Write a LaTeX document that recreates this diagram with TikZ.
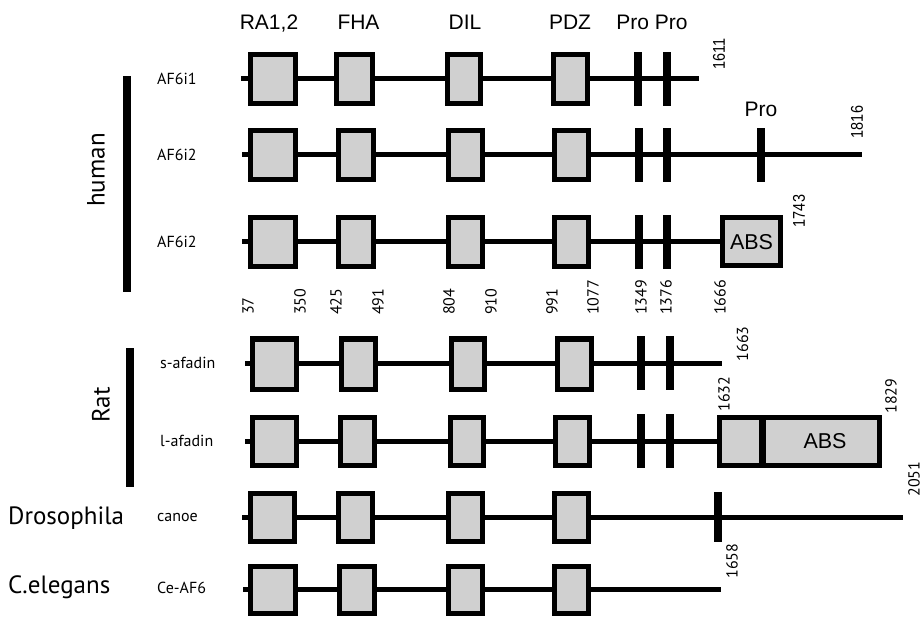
\documentclass[tikz,border=0pt]{standalone}
\usepackage{fontspec}
\newfontfamily\hvf{Liberation Sans}
\newfontfamily\hvn[FakeStretch=0.85]{Liberation Sans}
\newfontfamily\ptf{PT Sans}
\definecolor{boxgray}{RGB}{208,208,208}
\begin{document}
\begin{tikzpicture}[x=1pt,y=-1pt,
  dom/.style={draw, line width=5pt, fill=boxgray, inner sep=0pt, minimum height=49pt},
  pbar/.style={fill=black, draw=none, inner sep=0pt, outer sep=0pt, minimum width=8pt, minimum height=54pt},
  bb/.style={line width=5pt},
  hdr/.style={font=\hvf\fontsize{21}{25}\selectfont, inner sep=0pt, anchor=base},
  absl/.style={font=\hvf\fontsize{21.5}{25}\selectfont, inner sep=0pt},
  numh/.style={font=\hvn\fontsize{17}{20}\selectfont, rotate=90, inner sep=0pt},
  nump/.style={font=\ptf\fontsize{16}{19}\selectfont, rotate=90, inner sep=0pt},
  numb/.style={font=\ptf\fontsize{16}{19}\selectfont, rotate=90, anchor=west, inner sep=0pt},
  plab/.style={font=\ptf\fontsize{16}{19}\selectfont, anchor=west, inner sep=0pt},
  spec/.style={font=\ptf\fontsize{25}{30}\selectfont, inner sep=0pt},
  gbar/.style={fill=black}
]
\useasboundingbox (0,0) rectangle (923,617);

% header
\node[hdr] (hra) at (269,30) {RA1,2};
\node[hdr] (hfha) at (358.5,30) {FHA};
\node[hdr] (hdil) at (465,30) {DIL};
\node[hdr] (hpdz) at (570,30) {PDZ};
\node[hdr] (hpro) at (652,30) {Pro Pro};

% species
\node[spec, rotate=90] (human) at (96,170) {human};
\node[spec, rotate=90] (rat) at (101,405) {Rat};
\node[spec, anchor=base west] (dros) at (8,524) {Drosophila};
\node[spec, anchor=base west] (cel) at (8,593) {C.elegans};
\fill[gbar] (123,76) rectangle (131,292);
\fill[gbar] (126,348) rectangle (134,487);

% protein labels
\node[plab] (l1) at (157,79) {AF6i1};
\node[plab] (l2) at (157,155) {AF6i2};
\node[plab] (l3) at (157,242) {AF6i2};
\node[plab] (l4) at (160,363) {s-afadin};
\node[plab] (l5) at (160,441) {l-afadin};
\node[plab] (l6) at (157,517) {canoe};
\node[plab] (l7) at (157,588) {Ce-AF6};

% Row 1
\coordinate (r1s) at (241,79);
\coordinate (r1e) at (699,79);
\node[dom, minimum width=45pt] (r1ra) at (273,79) {};
\node[dom, minimum width=36pt] (r1fha) at (354.5,79) {};
\node[dom, minimum width=33pt] (r1dil) at (464,79) {};
\node[dom, minimum width=34pt] (r1pdz) at (570.5,79) {};
\node[pbar] (r1p1) at (638,79) {};
\node[pbar] (r1p2) at (667,79) {};
\draw[bb] (r1s) -- (r1ra) -- (r1fha) -- (r1dil) -- (r1pdz) -- (r1p1) -- (r1p2) -- (r1e);

% Row 2
\coordinate (r2s) at (242,155);
\coordinate (r2e) at (862,155);
\node[dom, minimum width=45pt] (r2ra) at (273,155) {};
\node[dom, minimum width=35pt] (r2fha) at (356,155) {};
\node[dom, minimum width=34pt] (r2dil) at (465.5,155) {};
\node[dom, minimum width=34pt] (r2pdz) at (571.5,155) {};
\node[pbar] (r2p1) at (639,155) {};
\node[pbar] (r2p2) at (667,155) {};
\node[pbar] (r2p3) at (761,155) {};
\draw[bb] (r2s) -- (r2ra) -- (r2fha) -- (r2dil) -- (r2pdz) -- (r2p1) -- (r2p2) -- (r2p3) -- (r2e);
\node[hdr] (pro3) at (761,117) {Pro};

% Row 3
\coordinate (r3s) at (242,242);
\node[dom, minimum width=45pt] (r3ra) at (273,242) {};
\node[dom, minimum width=35pt] (r3fha) at (356,242) {};
\node[dom, minimum width=34pt] (r3dil) at (465.5,242) {};
\node[dom, minimum width=34pt] (r3pdz) at (571.5,242) {};
\node[pbar] (r3p1) at (639,242) {};
\node[pbar] (r3p2) at (667,242) {};
\node[dom, minimum width=58pt, minimum height=48pt, font=\hvf\fontsize{21.5}{25}\selectfont] (r3abs) at (751.5,242) {ABS};
\draw[bb] (r3s) -- (r3ra) -- (r3fha) -- (r3dil) -- (r3pdz) -- (r3p1) -- (r3p2) -- (r3abs);

% position numbers
\node[numb] (n37) at (248,315) {37};
\node[numb] (n350) at (300,315) {350};
\node[numb] (n425) at (336,315) {425};
\node[numb] (n491) at (378,315) {491};
\node[numb] (n804) at (449,315) {804};
\node[numb] (n910) at (491,315) {910};
\node[numb] (n991) at (552,315) {991};
\node[numb] (n1077) at (593,315) {1077};
\node[numb] (n1349) at (641,315) {1349};
\node[numb] (n1376) at (666,315) {1376};
\node[numb] (n1666) at (720,315) {1666};

% Row 4
\coordinate (r4s) at (245,363);
\coordinate (r4e) at (722,363);
\node[dom, minimum width=44pt, minimum height=50pt] (r4ra) at (274.5,364) {};
\node[dom, minimum width=34pt, minimum height=50pt] (r4fha) at (358.5,364) {};
\node[dom, minimum width=33pt, minimum height=50pt] (r4dil) at (468,364) {};
\node[dom, minimum width=34pt, minimum height=50pt] (r4pdz) at (574.5,364) {};
\node[pbar] (r4p1) at (641,363) {};
\node[pbar] (r4p2) at (670,363) {};
\draw[bb] (r4s) -- (r4ra.west |- r4s);
\draw[bb] (r4ra.east |- r4s) -- (r4fha.west |- r4s);
\draw[bb] (r4fha.east |- r4s) -- (r4dil.west |- r4s);
\draw[bb] (r4dil.east |- r4s) -- (r4pdz.west |- r4s);
\draw[bb] (r4pdz.east |- r4s) -- (r4p1) -- (r4p2) -- (r4e);

% Row 5
\coordinate (r5s) at (245,441);
\node[dom, minimum width=44pt, minimum height=48pt] (r5ra) at (274.5,441) {};
\node[dom, minimum width=34pt, minimum height=48pt] (r5fha) at (357.5,441) {};
\node[dom, minimum width=33pt, minimum height=48pt] (r5dil) at (467,441) {};
\node[dom, minimum width=34pt, minimum height=48pt] (r5pdz) at (572.5,441) {};
\node[pbar] (r5p1) at (641,441) {};
\node[pbar] (r5p2) at (670,441) {};
\node[dom, minimum width=160pt, minimum height=48pt] (r5abs) at (799.5,441.5) {};
\node[pbar, minimum width=7pt, minimum height=52pt] (r5div) at (762,441.5) {};
\node[absl] (r5absl) at (825,441) {ABS};
\draw[bb] (r5s) -- (r5ra) -- (r5fha) -- (r5dil) -- (r5pdz) -- (r5p1) -- (r5p2) -- (r5abs.west |- r5s);

% Row 6
\coordinate (r6s) at (242,517);
\coordinate (r6e) at (903,517);
\node[dom, minimum width=44pt, minimum height=48pt] (r6ra) at (272.5,517) {};
\node[dom, minimum width=34pt, minimum height=48pt] (r6fha) at (355.5,517) {};
\node[dom, minimum width=34pt, minimum height=48pt] (r6dil) at (465.5,517) {};
\node[dom, minimum width=34pt, minimum height=48pt] (r6pdz) at (571.5,517) {};
\node[pbar, minimum height=50pt] (r6p1) at (717.5,517) {};
\draw[bb] (r6s) -- (r6ra) -- (r6fha) -- (r6dil) -- (r6pdz) -- (r6p1) -- (r6e);

% Row 7
\coordinate (r7s) at (243,589);
\coordinate (r7e) at (721,589);
\node[dom, minimum width=45pt, minimum height=47pt] (r7ra) at (273,590) {};
\node[dom, minimum width=35pt, minimum height=47pt] (r7fha) at (357,590) {};
\node[dom, minimum width=34pt, minimum height=47pt] (r7dil) at (465.5,590) {};
\node[dom, minimum width=34pt, minimum height=47pt] (r7pdz) at (571.5,590) {};
\draw[bb] (r7s) -- (r7ra.west |- r7s);
\draw[bb] (r7ra.east |- r7s) -- (r7fha.west |- r7s);
\draw[bb] (r7fha.east |- r7s) -- (r7dil.west |- r7s);
\draw[bb] (r7dil.east |- r7s) -- (r7pdz.west |- r7s);
\draw[bb] (r7pdz.east |- r7s) -- (r7e);

% end numbers
\node[numh] (e1611) at (719,54) {1611};
\node[numh] (e1816) at (857,122) {1816};
\node[numh] (e1743) at (799,211) {1743};
\node[nump] (e1663) at (742.5,344) {1663};
\node[nump] (e1632) at (724,394) {1632};
\node[nump] (e1829) at (891,396) {1829};
\node[nump] (e2051) at (914,479) {2051};
\node[nump] (e1658) at (732,561) {1658};
\end{tikzpicture}
\end{document}
